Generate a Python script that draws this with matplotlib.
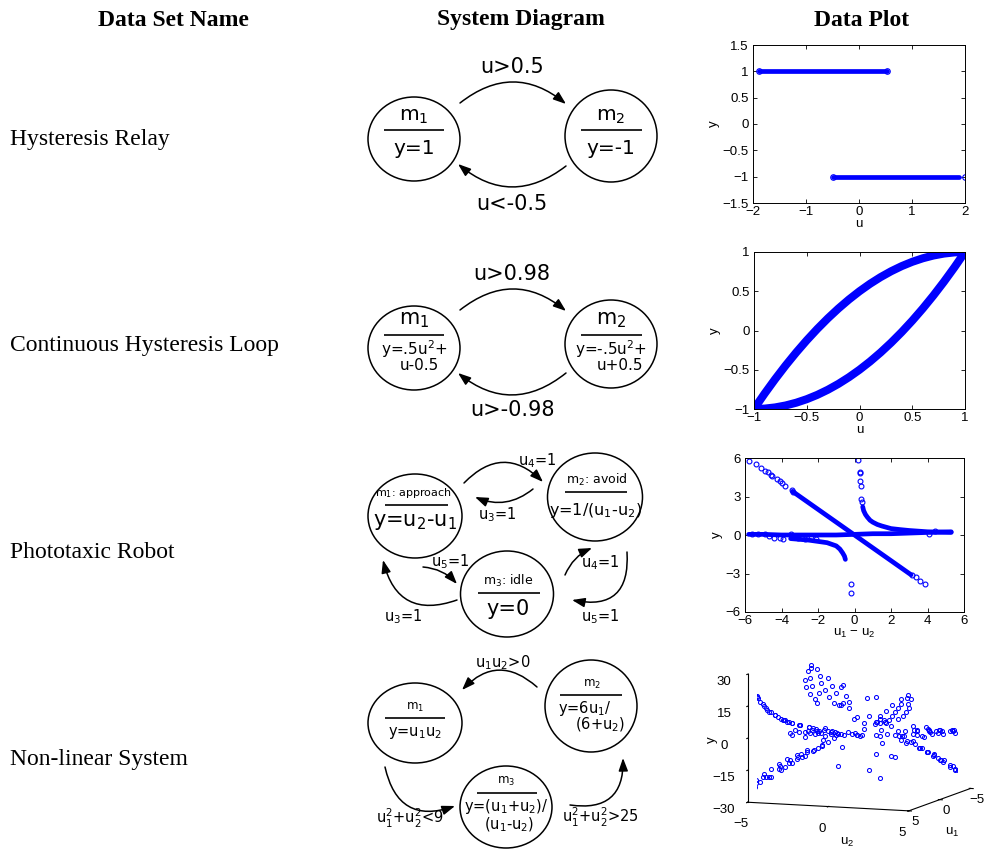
import numpy as np
import matplotlib
matplotlib.use("Agg")
import matplotlib.pyplot as plt
from matplotlib.patches import Ellipse, FancyArrowPatch

plt.rcParams["font.family"] = ["Liberation Sans", "DejaVu Sans"]
plt.rcParams["mathtext.default"] = "regular"
plt.rcParams["axes.unicode_minus"] = True

BLUE = "#0000ff"
SERIF = "Liberation Serif"
DIAG = "DejaVu Sans"

# ---- 텍스트 ----
headers = ["Data Set Name", "System Diagram", "Data Plot"]
dataset_names = ["Hysteresis Relay", "Continuous Hysteresis Loop",
                 "Phototaxic Robot", "Non-linear System"]

# ---- plot 1: hysteresis relay ----
relay_hi_u = [-1.88, -1.5, -1.0, -0.5, 0.0, 0.53]
relay_hi_y = [1, 1, 1, 1, 1, 1]
relay_lo_u = [-0.5, 0.0, 0.5, 1.0, 1.5, 1.88]
relay_lo_y = [-1, -1, -1, -1, -1, -1]
relay_end_u = [-1.88, 0.53, -0.5, 2.0]
relay_end_y = [1, 1, -1, -1]

# ---- plot 2: continuous loop ----
loop_u = [-1.0, -0.9, -0.8, -0.7, -0.6, -0.5, -0.4, -0.3, -0.2, -0.1, 0.0,
          0.1, 0.2, 0.3, 0.4, 0.5, 0.6, 0.7, 0.8, 0.9, 1.0]
loop_upper_y = [-1.0, -0.805, -0.62, -0.445, -0.28, -0.125, 0.02, 0.155, 0.28, 0.395, 0.5,
                0.595, 0.68, 0.755, 0.82, 0.875, 0.92, 0.955, 0.98, 0.995, 1.0]
loop_lower_y = [-1.0, -0.995, -0.98, -0.955, -0.92, -0.875, -0.82, -0.755, -0.68, -0.595, -0.5,
                -0.395, -0.28, -0.155, -0.02, 0.125, 0.28, 0.445, 0.62, 0.805, 1.0]

# ---- plot 3: phototaxic robot (x = u1 - u2) ----
photo_flat_x = [-5.8, -5.0, -4.0, -3.0, -2.0, -1.0, 0.0, 1.0, 2.0, 3.0, 4.0, 5.3]
photo_flat_y = [0.05, 0.05, 0.0, 0.0, 0.0, 0.0, 0.05, 0.1, 0.1, 0.15, 0.2, 0.25]
photo_diag_x = [-3.4, -2.0, -1.0, 0.0, 1.0, 2.0, 3.1]
photo_diag_y = [3.4, 2.0, 1.0, 0.0, -1.0, -2.0, -3.1]
photo_hyp_r_x = [0.45, 0.5, 0.6, 0.7, 0.85, 1.0, 1.25, 1.5, 2.0, 2.5, 3.0, 4.0, 5.3]
photo_hyp_r_y = [2.2, 1.9, 1.6, 1.4, 1.15, 1.0, 0.82, 0.7, 0.5, 0.42, 0.35, 0.25, 0.2]
photo_hyp_l_x = [-3.5, -2.5, -1.5, -1.0, -0.8, -0.65, -0.55, -0.5]
photo_hyp_l_y = [-0.28, -0.4, -0.6, -0.85, -1.1, -1.4, -1.65, -1.9]
photo_sparse_x = [-5.8, -5.4, -5.1, -4.9, -4.75, -4.55, -4.5, -4.25, -4.1, -4.0, -3.8,
                  -3.45, -3.35, 3.15, 3.35, 3.6, 3.85,
                  0.2, 0.3, 0.32, 0.3, 0.35, 0.38, 0.42, -0.2, -0.2,
                  -5.6, -5.3, -4.9, -4.7, -4.4, -4.1, -3.9, -3.5, -3.1, -2.7, -2.4, -2.1,
                  4.1, 4.4]
photo_sparse_y = [5.8, 5.5, 5.2, 5.0, 4.9, 4.65, 4.6, 4.35, 4.2, 4.05, 3.85,
                  3.5, 3.35, -3.1, -3.3, -3.6, -3.8,
                  5.85, 4.9, 4.8, 4.2, 3.85, 2.8, 2.6, -3.8, -4.5,
                  0.1, 0.05, 0.1, -0.1, -0.2, -0.25, -0.3, 0.1, -0.2, -0.3, -0.2, -0.35,
                  0.05, 0.3]

# ---- plot 4: non-linear system (u1, u2, y) ----
nl_mode1 = [
    (4.9, -4.8, -23.5), (4.7, -4.9, -23), (4.5, -4.7, -21.2), (4.8, -4.3, -20.6), (4.2, -4.8, -20.2),
    (4.6, -4.0, -18.4), (4.0, -4.4, -17.6), (4.9, -3.6, -17.6), (3.8, -4.0, -15.2), (4.4, -3.3, -14.5),
    (4.8, -3.0, -14.4), (3.6, -3.6, -13), (4.1, -2.8, -11.5), (4.6, -2.4, -11), (3.4, -3.2, -10.9),
    (3.9, -2.3, -9), (4.5, -1.8, -8.1), (3.3, -2.6, -8.6), (3.7, -1.8, -6.7), (4.2, -1.2, -5),
    (3.2, -2.0, -6.4), (3.6, -1.2, -4.3), (4.0, -0.8, -3.2), (3.1, -1.1, -3.4),
    (4.95, -4.6, -22.8), (4.3, -4.3, -18.5), (4.75, -3.8, -18), (4.0, -3.4, -13.6), (4.5, -2.9, -13),
    (3.7, -2.9, -10.7), (4.3, -2.2, -9.5), (4.8, -1.5, -7.2), (3.5, -2.3, -8), (3.9, -1.4, -5.5),
    (-4.9, -4.9, 24), (-4.7, -4.8, 22.6), (-4.9, -4.5, 22), (-4.4, -4.9, 21.6), (-4.6, -4.2, 19.3),
    (-4.1, -4.6, 18.9), (-4.8, -3.8, 18.2), (-3.8, -4.8, 18.2), (-4.2, -4.0, 16.8), (-3.6, -4.3, 15.5),
    (-4.5, -3.4, 15.3), (-3.9, -3.6, 14), (-3.3, -4.6, 15.2), (-4.8, -3.0, 14.4), (-3.4, -3.8, 12.9),
    (-4.1, -3.0, 12.3), (-3.0, -4.2, 12.6), (-3.5, -3.2, 11.2), (-4.4, -2.5, 11), (-2.8, -3.8, 10.6),
    (-3.2, -2.8, 9), (-4.0, -2.2, 8.8), (-2.5, -3.6, 9), (-3.6, -2.4, 8.6),
    (4.9, 4.9, 24), (4.7, 4.8, 22.6), (4.9, 4.5, 22), (4.4, 4.9, 21.6), (4.5, 4.3, 19.4),
    (4.1, 4.6, 18.9), (4.8, 3.9, 18.7), (4.2, 4.0, 16.8), (3.7, 4.5, 16.7), (4.6, 3.4, 15.6),
    (3.9, 3.7, 14.4), (3.4, 4.2, 14.3), (4.4, 3.0, 13.2), (3.6, 3.4, 12.2), (3.1, 3.9, 12.1),
    (4.0, 2.8, 11.2), (3.3, 3.1, 10.2), (2.9, 3.5, 10.2), (3.8, 2.5, 9.5), (3.1, 2.8, 8.7),
    (-4.9, 4.9, -26), (-4.7, 4.7, -24.1), (-4.9, 4.4, -23.6), (-4.5, 4.8, -23.6), (-4.6, 4.2, -21.3),
    (-4.2, 4.5, -20.9), (-4.8, 3.8, -20.2), (-4.0, 4.1, -18.4), (-4.5, 3.5, -17.8), (-3.7, 4.4, -18.3),
    (-4.1, 3.3, -15.5), (-3.5, 3.9, -15.7), (-4.7, 2.8, -15.2), (-3.3, 3.4, -13.2), (-3.9, 2.7, -12.5),
    (-4.4, 2.2, -11.7), (-3.0, 3.5, -12.5), (-3.6, 2.4, -10.6), (-4.2, 1.6, -8.7), (-3.2, 2.5, -10),
    (-4.6, 1.0, -6.6), (-3.8, 1.5, -7.7),
    (-4.95, 4.6, -24.8), (-4.35, 4.3, -20.7), (-4.75, 3.2, -17.2), (-3.9, 3.6, -16), (-4.3, 2.6, -13.2),
    (-3.4, 2.9, -11.9), (-4.0, 1.9, -9.6), (-4.8, 1.5, -9.2),
]
nl_mode2 = [
    (4.9, -4.9, 26.7), (4.8, -4.7, 22.2), (4.6, -4.5, 18.4), (4.9, -4.3, 17.3), (4.4, -4.2, 14.7),
    (4.7, -3.9, 13.4), (4.2, -3.6, 10.5), (4.8, -3.4, 11.1), (4.5, -3.0, 9), (4.0, -2.8, 7.5),
    (4.6, -2.4, 7.7), (4.3, -2.0, 6.5), (3.9, -1.6, 5.3), (4.4, -1.2, 5.5), (4.1, -0.6, 4.6),
    (3.8, -0.2, 3.9), (4.7, -4.0, 14.1), (4.3, -3.2, 9.2), (4.9, -2.6, 8.6), (4.5, -4.6, 19.3),
    (4.95, -4.8, 24.8), (4.85, -4.5, 19.4), (4.6, -4.2, 15.9), (4.4, -3.8, 12), (4.9, -3.7, 12.5),
    (4.6, -3.3, 10.2), (4.2, -3.0, 8.4), (4.8, -2.8, 9.1), (4.4, -2.5, 7.5), (4.0, -2.2, 6.3),
    (4.7, -1.9, 6.9), (4.2, -1.5, 5.6), (4.6, -0.9, 5.4), (4.0, -0.4, 4.3), (4.4, 0.2, 4.3),
    (-4.9, 4.8, -2.7), (-4.6, 4.5, -2.6), (-4.8, 3.9, -2.9), (-4.3, 4.2, -2.5), (-4.7, 3.2, -3.1),
    (-4.0, 3.6, -2.5), (-4.5, 2.6, -3.1), (-3.8, 2.9, -2.6), (-4.2, 2.0, -3.2), (-3.6, 2.2, -2.6),
    (-4.9, 1.5, -3.9), (-3.3, 1.6, -2.6), (-4.95, 4.95, -2.7), (-4.4, 4.7, -2.4), (-4.7, 4.1, -2.8),
]
nl_mode3 = [
    (2.0, -1.0, 0.33), (1.5, -2.5, -0.25), (3.0, -1.0, 0.5), (-1.0, 2.0, -0.33), (-2.5, 1.0, 0.43),
    (0.5, -3.0, -0.71), (-3.0, 0.5, 0.71), (2.5, 0.5, 1.5), (-2.0, -0.5, 1.67), (1.0, 3.0, -2),
    (-1.0, -3.0, -2), (3.0, 1.0, 2), (0.0, 2.5, -1), (0.0, -2.5, -1), (2.5, 0.0, 1), (-2.5, 0.0, 1),
    (1.8, 1.0, 3.5), (-1.8, -1.0, 3.5), (1.0, 1.8, -3.5), (-1.0, -1.8, -3.5), (1.5, 1.2, 9),
    (-1.5, -1.2, 9), (1.2, 1.5, -9), (-1.2, -1.5, -9), (2.0, 1.8, 19), (-2.0, -1.8, 19),
    (1.8, 2.0, -19), (-1.8, -2.0, -19), (0.9, 0.8, 17), (0.8, 0.9, -17), (3.0, -3.0, 0),
    (-3.0, 3.0, 0), (3.5, -2.0, 0.27), (-3.5, 2.0, -0.27), (2.0, -3.5, -0.27), (-2.0, 3.5, 0.27),
    (1.0, -1.0, 0), (-1.0, 1.0, 0), (0.5, -0.5, 0), (4.0, 0.0, 1), (-4.0, 0.0, 1), (0.0, 4.0, -1),
    (0.0, -4.0, -1), (2.8, 2.2, 8.3), (-2.8, -2.2, 8.3), (2.2, 2.8, -8.3), (-2.2, -2.8, -8.3),
    (3.2, 2.5, 8.1), (2.5, 3.2, -8.1), (-3.2, -2.5, 8.1), (-2.5, -3.2, -8.1), (3.5, 1.5, 2.5),
    (1.5, 3.5, -2.5), (-3.5, -1.5, 2.5), (-1.5, -3.5, -2.5),
    (4.5, -2.0, 3.5), (4.0, -1.0, 3.0), (3.5, 0.0, 2.5), (3.0, 1.0, 2.0), (2.5, 2.0, 1.8),
    (2.0, 3.0, 1.5), (1.0, 4.0, 1.0), (0.0, 4.5, 0.5), (-1.0, 4.5, 0.0), (-2.0, 4.0, -0.5),
    (-3.0, 4.5, -1.0), (4.8, -1.5, 4.2), (4.2, 0.5, 3.2), (3.8, 1.5, 2.6), (3.2, 2.5, 2.0),
    (2.2, 3.5, 1.4), (1.5, 4.5, 1.0), (-0.5, 5.0, 0.2), (-2.5, 5.0, -1.2), (-3.5, 5.0, -1.8),
    (2.0, -2.0, 0.0), (1.0, -2.0, -0.33), (-1.0, -2.5, -0.43), (3.3, -0.5, 2.8), (2.7, 0.8, 2.2),
    (1.8, 2.4, 1.6), (0.6, 3.6, 0.8), (-1.6, 3.8, -0.3), (-2.8, 3.9, -0.9),
]

# ---- figure ----
fig = plt.figure(figsize=(9.84, 8.52), dpi=100)

# 전체 overlay (픽셀 좌표계) - 제목, 이름, 다이어그램
dax = fig.add_axes([0, 0, 1, 1])
dax.set_xlim(0, 984)
dax.set_ylim(852, 0)
dax.axis("off")

for x, h in zip([173, 521, 862], headers):
    dax.text(x, 20, h, family=SERIF, weight="bold", fontsize=17, ha="center", va="center")
for y, name in zip([140, 346, 553, 760], dataset_names):
    dax.text(10, y, name, family=SERIF, fontsize=17, ha="left", va="center")


def state(cx, cy, w, h):
    dax.add_patch(Ellipse((cx, cy), w, h, fill=False, lw=1.1, ec="k"))


def bar(x0, x1, y):
    dax.plot([x0, x1], [y, y], color="k", lw=1.2, solid_capstyle="butt")


def txt(x, y, s, size, ha="center"):
    dax.text(x, y, s, fontsize=size, family=DIAG, ha=ha, va="center")


def arrow(p0, p1, rad):
    dax.add_patch(FancyArrowPatch(p0, p1, connectionstyle=f"arc3,rad={rad}",
                                  arrowstyle="-|>,head_length=0.55,head_width=0.2",
                                  mutation_scale=14, lw=1.1, color="k",
                                  shrinkA=0, shrinkB=0))


# row 1
state(414, 139, 92, 84); state(611, 136, 92, 92)
bar(384, 444, 130); bar(581, 642, 130)
txt(414, 116, "$m_1$", 14.5); txt(414, 149, "y=1", 14.5)
txt(611, 116, "$m_2$", 14.5); txt(611, 149, "y=-1", 14.5)
arrow((460, 103), (566, 104), -0.4); txt(512, 67, "u>0.5", 15)
arrow((566, 166), (458, 164), -0.4); txt(512, 204, "u<-0.5", 15)

# row 2
state(414, 348, 92, 84); state(611, 344, 92, 88)
bar(384, 444, 335); bar(581, 642, 335)
txt(414, 320, "$m_1$", 15); txt(414, 349, "y=.5u$^2$+", 11); txt(419, 366, "u-0.5", 11)
txt(611, 320, "$m_2$", 15); txt(611, 349, "y=-.5u$^2$+", 11); txt(620, 366, "u+0.5", 11)
arrow((460, 310), (566, 311), -0.4); txt(512, 274, "u>0.98", 15)
arrow((566, 373), (458, 373), -0.4); txt(512, 410, "u>-0.98", 15)

# row 3
state(415, 516, 94, 84); state(595, 497, 95, 88); state(507, 594, 93, 86)
bar(385, 448, 505); bar(565, 627, 492); bar(478, 540, 593)
txt(413, 493, "$m_1$: approach", 8); txt(415, 522, "y=u$_2$-u$_1$", 15)
txt(597, 480, "$m_2$: avoid", 9); txt(596, 511, "y=1/(u$_1$-u$_2$)", 11.5)
txt(508, 581, "$m_3$: idle", 9); txt(508, 609, "y=0", 15)
arrow((464, 483), (543, 482), -0.5); txt(537, 461, "u$_4$=1", 10.5)
arrow((533, 489), (475, 497), -0.3); txt(497, 515, "u$_3$=1", 10.5)
arrow((423, 567), (457, 584), -0.2); txt(450, 562, "u$_5$=1", 10.5)
arrow((457, 600), (383, 560), -0.55); txt(403, 617, "u$_3$=1", 10.5)
arrow((565, 575), (592, 548), -0.2); txt(600, 563, "u$_4$=1", 10.5)
arrow((627, 552), (572, 600), -0.65); txt(600, 617, "u$_5$=1", 10.5)

# row 4
state(415, 723, 94, 80); state(591, 706, 92, 92); state(506, 807, 92, 82)
bar(385, 445, 718); bar(560, 622, 695); bar(477, 537, 793)
txt(415, 707, "$m_1$", 8.5); txt(415, 733, "y=u$_1$u$_2$", 10.5)
txt(592, 684, "$m_2$", 8.5); txt(558, 708, "y=6u$_1$/", 10.5, ha="left")
txt(600, 725, "(6+u$_2$)", 10.5)
txt(506, 781, "$m_3$", 8.5); txt(506, 807, "y=(u$_1$+u$_2$)/", 10.5)
txt(509, 825, "(u$_1$-u$_2$)", 10.5)
arrow((537, 687), (462, 690), 0.48); txt(503, 663, "u$_1$u$_2$>0", 10.5)
arrow((385, 767), (455, 806), 0.56); txt(410, 818, "u$_1^2$+u$_2^2$<9", 10.5)
arrow((570, 805), (623, 758), 0.59); txt(600, 817, "u$_1^2$+u$_2^2$>25", 10.5)


# ---- 2D 데이터 플롯 (MATLAB 스타일) ----
def matlab_axes(rect, xlim, ylim, xticks, yticks, xlabel, ylabel):
    ax = fig.add_axes(rect)
    ax.set_xlim(xlim)
    ax.set_ylim(ylim)
    ax.set_xticks(xticks)
    ax.set_yticks(yticks)
    ax.set_xticklabels([f"{v:g}".replace("-", "\u2212") for v in xticks])
    ax.set_yticklabels([f"{v:g}".replace("-", "\u2212") for v in yticks])
    ax.tick_params(direction="in", top=True, right=True, length=3, width=0.6,
                   labelsize=9.5)
    ax.tick_params(axis="x", pad=2)
    ax.tick_params(axis="y", pad=3)
    for s in ax.spines.values():
        s.set_linewidth(0.7)
    ax.set_xlabel(xlabel, fontsize=9.5, labelpad=0)
    ax.set_ylabel(ylabel, fontsize=9.5, labelpad=2)
    return ax


ax1 = matlab_axes([753 / 984, 1 - 203 / 852, 212 / 984, 158 / 852], (-2, 2), (-1.5, 1.5),
                  [-2, -1, 0, 1, 2], [-1.5, -1, -0.5, 0, 0.5, 1, 1.5], "u", "y")
for u, y in [(relay_hi_u, relay_hi_y), (relay_lo_u, relay_lo_y)]:
    ax1.plot(u, y, color=BLUE, lw=3.4, solid_capstyle="round")
ax1.plot(relay_end_u, relay_end_y, "o", color=BLUE, ms=4, mfc="none", mew=0.8)

ax2 = matlab_axes([754 / 984, 1 - 409 / 852, 211 / 984, 157 / 852], (-1, 1), (-1, 1),
                  [-1, -0.5, 0, 0.5, 1], [-1, -0.5, 0, 0.5, 1], "u", "y")
for y in (loop_upper_y, loop_lower_y):
    ax2.plot(loop_u, y, color=BLUE, lw=5.8, solid_capstyle="round", solid_joinstyle="round")

ax3 = matlab_axes([745 / 984, 1 - 612 / 852, 219 / 984, 154 / 852], (-6, 6), (-6, 6),
                  [-6, -4, -2, 0, 2, 4, 6], [-6, -3, 0, 3, 6], "$u_1$ \u2212 $u_2$", "y")
for x, y in [(photo_flat_x, photo_flat_y), (photo_diag_x, photo_diag_y),
             (photo_hyp_r_x, photo_hyp_r_y), (photo_hyp_l_x, photo_hyp_l_y)]:
    ax3.plot(x, y, color=BLUE, lw=3.4, solid_capstyle="round", solid_joinstyle="round")
ax3.plot(photo_sparse_x, photo_sparse_y, "o", color=BLUE, ms=3.5, mfc="none", mew=0.8)

# ---- 3D 플롯 ----
pts = np.array(nl_mode1 + nl_mode2 + nl_mode3)
ax4 = fig.add_axes([709 / 984, 18 / 852, 295 / 984, 200 / 852], projection="3d")
ax4.patch.set_visible(False)
ax4.set_proj_type("ortho")
ax4.view_init(elev=8, azim=21)
ax4.set_box_aspect(None, zoom=1.34)
ax4.plot(pts[:, 0], pts[:, 1], pts[:, 2], "o", color=BLUE, ms=2.9, mfc="none", mew=0.75)
ax4.set_xlim(-5, 5)
ax4.set_ylim(-5, 5)
ax4.set_zlim(-30, 30)
ax4.set_xticks([-5, 0, 5])
ax4.set_yticks([-5, 0, 5])
ax4.set_zticks([-30, -15, 0, 15, 30])
ax4.set_xticklabels(["\u22125", "0", "5"])
ax4.set_yticklabels(["\u22125", "0", "5"])
ax4.set_zticklabels(["\u221230", "\u221215", "0", "15", "30"])
ax4.tick_params(labelsize=9.5, pad=0)
ax4.xaxis.set_tick_params(pad=-5)
ax4.grid(False)
for axis in (ax4.xaxis, ax4.yaxis, ax4.zaxis):
    axis.set_pane_color((1, 1, 1, 0))
    axis.pane.set_edgecolor((1, 1, 1, 0))
    axis.line.set_linewidth(0.8)
# 축 이름은 참조 위치에 직접 배치 (3D 축 위에 보이도록 figure 텍스트로)
for (px, py), s, rot in [((847, 842), "$u_2$", 0), ((952, 832), "$u_1$", 0), ((712, 740), "y", 90)]:
    fig.text(px / 984, 1 - py / 852, s, fontsize=9.5, ha="center", va="center", rotation=rot)

fig.savefig("out.png", dpi=100)
